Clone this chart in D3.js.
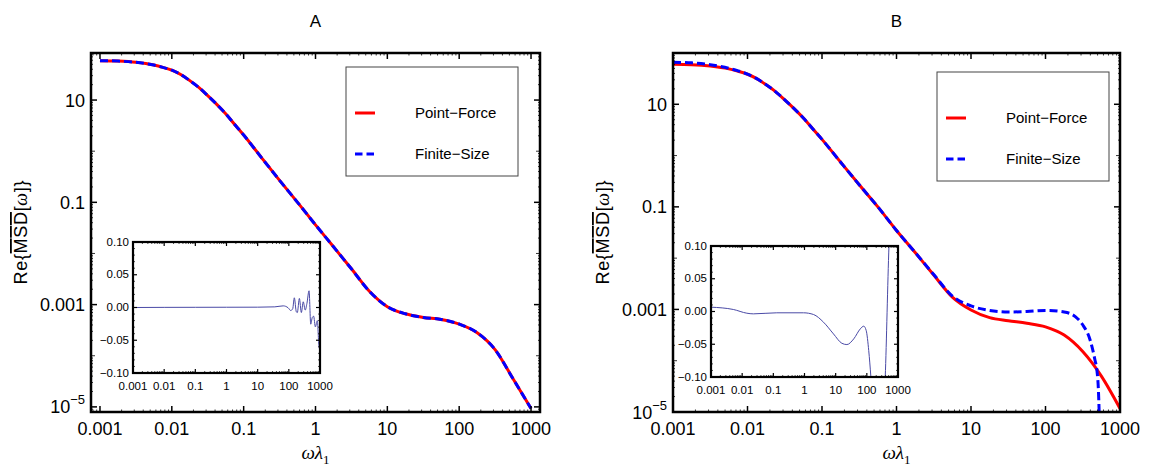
<!DOCTYPE html>
<html>
<head>
<meta charset="utf-8">
<script src="https://cdn.jsdelivr.net/npm/d3@7"></script>
<style>
  body { margin: 0; background: #fff; }
  svg { display: block; font-family: "Liberation Sans", Arial, Helvetica, sans-serif; }
</style>
</head>
<body>
<svg id="chart" width="1156" height="470"></svg>
<script>
// ---- values ----
const omega = [0.001, 0.00178, 0.00316, 0.00562, 0.0075, 0.01, 0.0133, 0.0178, 0.0237, 0.0316,
  0.0422, 0.0562, 0.075, 0.1, 0.178, 0.316, 0.562, 1, 1.78, 3.16, 5.62, 10, 17.8, 31.6, 56.2,
  100, 178, 316, 562, 1000];

// panel A: both models coincide
const aPointForce = [58.9, 57.8, 54.7, 48.3, 43.6, 38.5, 31.6, 24.0, 17.7, 12.2,
  8.24, 5.40, 3.33, 2.07, 0.741, 0.269, 0.1, 0.0363, 0.0135, 0.00501, 0.00182, 0.000912,
  0.000661, 0.000562, 0.000513, 0.000417, 0.000282, 0.000132, 0.0000355, 0.0000093];
const aFiniteSize = [58.9, 57.8, 54.7, 48.3, 43.6, 38.5, 31.6, 24.0, 17.7, 12.2,
  8.24, 5.40, 3.33, 2.07, 0.741, 0.269, 0.1, 0.0363, 0.0135, 0.00501, 0.00182, 0.000912,
  0.000661, 0.000562, 0.000513, 0.000417, 0.000282, 0.000132, 0.0000355, 0.0000093];

// panel B
const bPointForce = [60.3, 59.2, 55.7, 49.0, 43.9, 38.5, 31.6, 24.0, 17.7, 12.2,
  8.24, 5.40, 3.33, 2.07, 0.741, 0.269, 0.1, 0.0347, 0.0129, 0.00468, 0.00174, 0.000977,
  0.000692, 0.000603, 0.000537, 0.000457, 0.000316, 0.000151, 0.0000501, 0.0000117];
const bFiniteOmega = [0.001, 0.00178, 0.00316, 0.00562, 0.0075, 0.01, 0.0133, 0.0178, 0.0237,
  0.0316, 0.0422, 0.0562, 0.075, 0.1, 0.178, 0.316, 0.562, 1, 1.78, 3.16, 5.62, 10, 17.8, 31.6,
  56.2, 100, 178, 251, 316, 398, 462, 490, 513, 525, 537];
const bFiniteSize = [66.1, 64.3, 59.2, 50.4, 44.7, 38.7, 31.6, 24.0, 17.7,
  12.2, 8.24, 5.40, 3.33, 2.07, 0.741, 0.269, 0.1, 0.0347, 0.0129, 0.00479, 0.00182, 0.00117,
  0.000955, 0.000891, 0.000912, 0.000955, 0.000891, 0.000724, 0.000501, 0.000251, 0.000102,
  0.0000646, 0.0000269, 0.00001, 0.0000025];

// insets: difference between the two models
const insetAOmega = [0.001, 0.01, 0.1, 1, 10, 35.5, 66, 95, 115, 133, 150, 174, 187, 218, 252,
  290, 336, 380, 445, 505, 565, 625, 710, 820, 920, 1000];
const insetAValue = [0, 0.0002, 0.0003, 0.0004, 0.0005, 0.001, 0.0025, -0.0005, -0.0046, -0.002,
  0.0148, -0.0066, -0.0077, 0.0138, -0.0077, 0.0087, -0.004, 0.006, 0.0255, -0.0255, -0.0153,
  -0.0133, -0.0296, -0.02, -0.0577, -0.065];
const insetBOmega = [0.001, 0.0052, 0.0141, 0.0229, 0.129, 0.933, 1.95, 4.07, 8.51, 15.8, 22.9,
  38.0, 61.7, 79.4, 95.5, 115, 135, 178, 282, 389, 513, 631];
const insetBValue = [0.0066, 0.0031, -0.0026, -0.0036, -0.002, -0.002, -0.0046, -0.0163, -0.0342,
  -0.0485, -0.0505, -0.0418, -0.0265, -0.0224, -0.0291, -0.0597, -0.1005, -0.2, -0.22, -0.1005,
  0.1, 0.2];

const xTickValues = [0.001, 0.01, 0.1, 1, 10, 100, 1000];
const xTickLabels = ["0.001", "0.01", "0.1", "1", "10", "100", "1000"];
const yTickValues = [1e-5, 1e-3, 0.1, 10];
const yTickLabels = ["10|−5", "0.001", "0.1", "10"];
const insetYValues = [-0.1, -0.05, 0, 0.05, 0.1];
const insetYLabels = ["−0.10", "−0.05", "0.00", "0.05", "0.10"];
const seriesNames = ["Point−Force", "Finite−Size"];
const panelTitles = ["A", "B"];

const svg = d3.select("#chart");
const RED = "#ff0000";
const BLUE = "#0000ff";
const INSET = "#4a4aa6";

function logSteps(domain) {
  const out = [];
  const [a, b] = domain;
  for (let e = Math.floor(Math.log10(a)); e <= Math.ceil(Math.log10(b)); e++) {
    for (let m = 1; m < 10; m++) {
      const v = m * Math.pow(10, e);
      if (v >= a * 0.999 && v <= b * 1.001) out.push({ v, decade: m === 1 });
    }
  }
  return out;
}

function tickLine(g, x1, y1, x2, y2, w) {
  g.append("line").attr("x1", x1).attr("y1", y1).attr("x2", x2).attr("y2", y2)
    .attr("stroke", "#000").attr("stroke-width", w || 1);
}

function drawPanel(p) {
  const g = svg.append("g");
  const x = d3.scaleLog().domain(p.xDomain).range([p.left, p.right]);
  const y = d3.scaleLog().domain(p.yDomain).range([p.bottom, p.top]);

  const clipId = "clip-" + p.id;
  g.append("clipPath").attr("id", clipId).append("rect")
    .attr("x", p.left).attr("y", p.top)
    .attr("width", p.right - p.left).attr("height", p.bottom - p.top);

  const line = d3.line()
    .x((d) => x(d[0])).y((d) => y(d[1]))
    .curve(d3.curveMonotoneX);

  const curves = g.append("g").attr("clip-path", `url(#${clipId})`);
  curves.append("path")
    .datum(p.redX.map((v, i) => [v, p.red[i]]))
    .attr("fill", "none").attr("stroke", RED).attr("stroke-width", 3)
    .attr("d", line);
  curves.append("path")
    .datum(p.blueX.map((v, i) => [v, p.blue[i]]))
    .attr("fill", "none").attr("stroke", BLUE).attr("stroke-width", 3)
    .attr("stroke-dasharray", "8,4")
    .attr("d", line);

  // frame ticks (inward, all four sides)
  const tg = g.append("g");
  logSteps(p.xDomain).forEach((t) => {
    const major = xTickValues.includes(t.v) || t.decade;
    const len = major ? 6 : 2.5;
    tickLine(tg, x(t.v), p.bottom, x(t.v), p.bottom - len, major ? 1.5 : 0.8);
    tickLine(tg, x(t.v), p.top, x(t.v), p.top + len, major ? 1.5 : 0.8);
  });
  logSteps(p.yDomain).forEach((t) => {
    const major = yTickValues.some((v) => Math.abs(v - t.v) / v < 1e-6);
    const len = major ? 6 : t.decade ? 4 : 2;
    tickLine(tg, p.left, y(t.v), p.left + len, y(t.v), major ? 1.5 : 0.8);
    tickLine(tg, p.right, y(t.v), p.right - len, y(t.v), major ? 1.5 : 0.8);
  });

  g.append("rect")
    .attr("x", p.left).attr("y", p.top)
    .attr("width", p.right - p.left).attr("height", p.bottom - p.top)
    .attr("fill", "none").attr("stroke", "#000").attr("stroke-width", 2.5);

  // tick labels
  xTickValues.forEach((v, i) => {
    g.append("text").attr("x", x(v)).attr("y", p.bottom + 23)
      .attr("text-anchor", "middle").attr("font-size", 18).text(xTickLabels[i]);
  });
  yTickValues.forEach((v, i) => {
    const lab = yTickLabels[i];
    const t = g.append("text").attr("x", p.left - 6).attr("y", y(v) + 6.5)
      .attr("text-anchor", "end").attr("font-size", 18);
    if (lab.includes("|")) {
      const [base, sup] = lab.split("|");
      t.append("tspan").text(base);
      t.append("tspan").attr("dy", -9).attr("font-size", 13).text(sup);
    } else {
      t.text(lab);
    }
  });

  // title
  g.append("text").attr("x", (p.left + p.right) / 2).attr("y", 27)
    .attr("text-anchor", "middle").attr("font-size", 17).text(p.title);

  // x-axis label  ωλ1
  const xl = g.append("text").attr("x", (p.left + p.right) / 2).attr("y", 459)
    .attr("text-anchor", "middle")
    .attr("font-family", "'Liberation Serif', 'Times New Roman', serif")
    .attr("font-size", 19);
  xl.append("tspan").attr("font-style", "italic").text("ωλ");
  xl.append("tspan").attr("dy", 5).attr("font-size", 13).text("1");

  // y-axis label  Re{MSD[ω]} with overline
  const yl = g.append("text")
    .attr("transform", `translate(${p.left - 64},${(p.top + p.bottom) / 2}) rotate(-90)`)
    .attr("text-anchor", "middle").attr("font-size", 18)
    .attr("textLength", 104).attr("lengthAdjust", "spacing");
  yl.append("tspan").text("Re{");
  yl.append("tspan").attr("text-decoration", "overline").text("MSD");
  yl.append("tspan").text("[");
  yl.append("tspan").attr("font-family", "'Liberation Serif', serif")
    .attr("font-style", "italic").text("ω");
  yl.append("tspan").text("]}");

  // legend
  const lg = g.append("g").attr("transform", `translate(${p.legend[0]},${p.legend[1]})`);
  lg.append("rect").attr("width", 172).attr("height", 109)
    .attr("fill", "#fff").attr("stroke", "#444").attr("stroke-width", 1);
  [[RED, null], [BLUE, "7.5,4"]].forEach(([c, dash], i) => {
    const yy = 46 + i * 41;
    const l = lg.append("line").attr("x1", 9).attr("x2", 29).attr("y1", yy).attr("y2", yy)
      .attr("stroke", c).attr("stroke-width", 3);
    if (dash) l.attr("stroke-dasharray", dash);
    lg.append("text").attr("x", 69).attr("y", yy + 5).attr("font-size", 15).text(seriesNames[i]);
  });

  // inset
  drawInset(p.inset, p.insetX, p.insetY, p.id);
}

function drawInset(box, xs, ys, id) {
  const [l, t, r, b] = box;
  const g = svg.append("g");
  const x = d3.scaleLog().domain([0.001, 1000]).range([l, r]);
  const y = d3.scaleLinear().domain([-0.1, 0.1]).range([b, t]);
  const clipId = "iclip-" + id;
  g.append("clipPath").attr("id", clipId).append("rect")
    .attr("x", l).attr("y", t).attr("width", r - l).attr("height", b - t);
  g.append("rect").attr("x", l).attr("y", t).attr("width", r - l).attr("height", b - t)
    .attr("fill", "#fff");

  g.append("g").attr("clip-path", `url(#${clipId})`).append("path")
    .datum(xs.map((v, i) => [v, ys[i]]))
    .attr("fill", "none").attr("stroke", INSET).attr("stroke-width", 1)
    .attr("d", d3.line().x((d) => x(d[0])).y((d) => y(d[1])).curve(d3.curveMonotoneX));

  logSteps([0.001, 1000]).forEach((s) => {
    const len = s.decade ? 4 : 2;
    tickLine(g, x(s.v), b, x(s.v), b - len, s.decade ? 1.2 : 0.7);
    tickLine(g, x(s.v), t, x(s.v), t + len, s.decade ? 1.2 : 0.7);
  });
  d3.range(-10, 11).forEach((k) => {
    const v = k / 100;
    const major = k % 5 === 0;
    const len = major ? 4 : 2;
    tickLine(g, l, y(v), l + len, y(v), major ? 1.2 : 0.7);
    tickLine(g, r, y(v), r - len, y(v), major ? 1.2 : 0.7);
  });

  g.append("rect").attr("x", l).attr("y", t).attr("width", r - l).attr("height", b - t)
    .attr("fill", "none").attr("stroke", "#000").attr("stroke-width", 2.2);

  xTickValues.forEach((v, i) => {
    g.append("text").attr("x", x(v)).attr("y", b + 16.5).attr("text-anchor", "middle")
      .attr("font-size", 11.5).text(xTickLabels[i]);
  });
  insetYValues.forEach((v, i) => {
    g.append("text").attr("x", l - 4).attr("y", y(v) + 3.5).attr("text-anchor", "end")
      .attr("font-size", 11.5).text(insetYLabels[i]);
  });
}

drawPanel({
  id: "a", title: panelTitles[0],
  left: 91, right: 540, top: 53, bottom: 412,
  xDomain: [Math.pow(10, -3.125), Math.pow(10, 3.125)],
  yDomain: [Math.pow(10, -5.1), Math.pow(10, 1.92)],
  redX: omega, red: aPointForce, blueX: omega, blue: aFiniteSize,
  legend: [346, 67],
  inset: [133, 242, 320, 373], insetX: insetAOmega, insetY: insetAValue,
});

drawPanel({
  id: "b", title: panelTitles[1],
  left: 673, right: 1120, top: 53, bottom: 412,
  xDomain: [0.001, 1000],
  yDomain: [1e-5, 100],
  redX: omega, red: bPointForce, blueX: bFiniteOmega, blue: bFiniteSize,
  legend: [937, 72],
  inset: [711, 246, 898, 377], insetX: insetBOmega, insetY: insetBValue,
});
</script>
</body>
</html>
